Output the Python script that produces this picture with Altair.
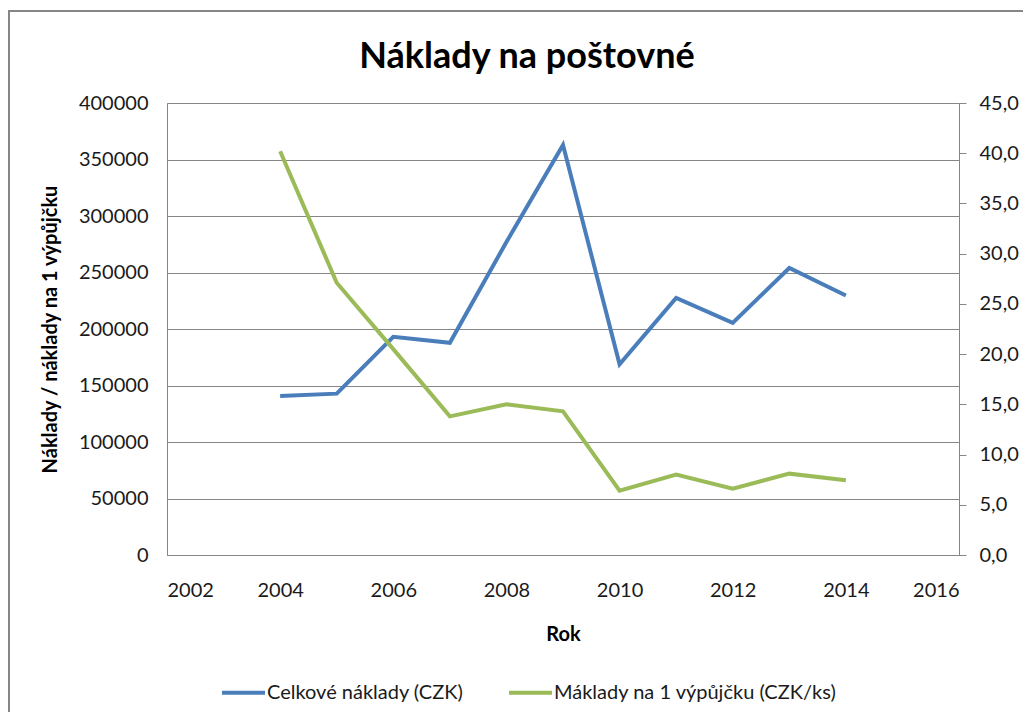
import altair as alt
import pandas as pd

years = [2004, 2005, 2006, 2007, 2008, 2009, 2010, 2011, 2012, 2013, 2014]
total_costs = [140700, 142800, 193100, 187800, 277000, 362900, 168700, 227500, 205400, 254000, 229600]
cost_per_loan = [40.2, 27.1, 20.5, 13.8, 15.0, 14.3, 6.4, 8.0, 6.6, 8.1, 7.45]

title_text = "Náklady na poštovné"
s1 = "Celkové náklady (CZK)"
s2 = "Máklady na 1 výpůjčku (CZK/ks)"
x_ticks = [2002, 2004, 2006, 2008, 2010, 2012, 2014, 2016]
left_ticks = [0, 50000, 100000, 150000, 200000, 250000, 300000, 350000, 400000]
right_ticks = [0, 5, 10, 15, 20, 25, 30, 35, 40, 45]

df1 = pd.DataFrame({"year": years, "value": total_costs, "series": s1})
df2 = pd.DataFrame({"year": years, "value": cost_per_loan, "series": s2})

FONT = "Lato"
GRAY = "#868686"
FS = 20

color = alt.Color(
    "series:N",
    scale=alt.Scale(domain=[s1, s2], range=["#4A7EBB", "#9BBB59"]),
    legend=alt.Legend(
        title=None,
        orient="none",
        direction="horizontal",
        legendX=53,
        legendY=566,
        symbolType="stroke",
        symbolSize=1849,
        symbolStrokeWidth=4,
        labelFont=FONT,
        labelFontSize=FS,
        labelColor="#1a1a1a",
        labelOffset=0,
        columnPadding=37,
        labelLimit=400,
    ),
)

x = alt.X(
    "year:Q",
    scale=alt.Scale(domain=[2002, 2016], nice=False, zero=False),
    axis=alt.Axis(
        values=x_ticks, format="d", title="Rok", grid=False, ticks=False,
        domainColor=GRAY, domainWidth=1, labelPadding=25,
        labelFont=FONT, labelFontSize=FS, labelColor="#1a1a1a",
        titleFont=FONT, titleFontSize=FS, titleFontWeight="bold", titleColor="#000000",
        titlePadding=24,
    ),
)

one = pd.DataFrame({"a": [0]})

frame = alt.Chart(one).mark_rect(
    fill="transparent", stroke=GRAY, strokeWidth=2
).encode(
    x=alt.value(-158), x2=alt.value(880), y=alt.value(-92), y2=alt.value(660)
)

title = alt.Chart(one).mark_text(
    text=title_text, font=FONT, fontSize=36, fontWeight="bold", color="#000000",
    align="center", baseline="alphabetic",
).encode(x=alt.value(360), y=alt.value(-35))

line1 = alt.Chart(df1).mark_line(strokeWidth=4).encode(
    x=x,
    y=alt.Y(
        "value:Q",
        scale=alt.Scale(domain=[0, 400000], nice=False),
        axis=alt.Axis(
            values=left_ticks, format="d", orient="left",
            title="Náklady / náklady na 1 výpůjčku",
            grid=True, gridColor=GRAY, gridWidth=1,
            ticks=False, domainColor=GRAY, domainWidth=1, labelPadding=19,
            labelFont=FONT, labelFontSize=FS, labelColor="#1a1a1a",
            titleFont=FONT, titleFontSize=FS, titleFontWeight="bold", titleColor="#000000",
            titlePadding=18,
        ),
    ),
    color=color,
)

line2 = alt.Chart(df2).mark_line(strokeWidth=4).encode(
    x=x,
    y=alt.Y(
        "value:Q",
        scale=alt.Scale(domain=[0, 45], nice=False),
        axis=alt.Axis(
            values=right_ticks, orient="right", title=None, grid=False,
            labelExpr="replace(format(datum.value, '.1f'), '.', ',')",
            ticks=True, tickSize=7, tickColor=GRAY, domainColor=GRAY, domainWidth=1,
            labelPadding=13,
            labelFont=FONT, labelFontSize=FS, labelColor="#1a1a1a",
        ),
    ),
    color=color,
)

chart = (
    alt.layer(frame, title, line1, line2)
    .resolve_scale(y="independent")
    .properties(
        width=792,
        height=452,
        autosize=alt.AutoSizeParams(type="none"),
        padding={"left": 159, "top": 95, "right": 64, "bottom": 157},
    )
    .configure_view(stroke=None)
    .configure(background="white")
)

chart.save("out.html", embed_options={"renderer": "svg", "actions": False})
